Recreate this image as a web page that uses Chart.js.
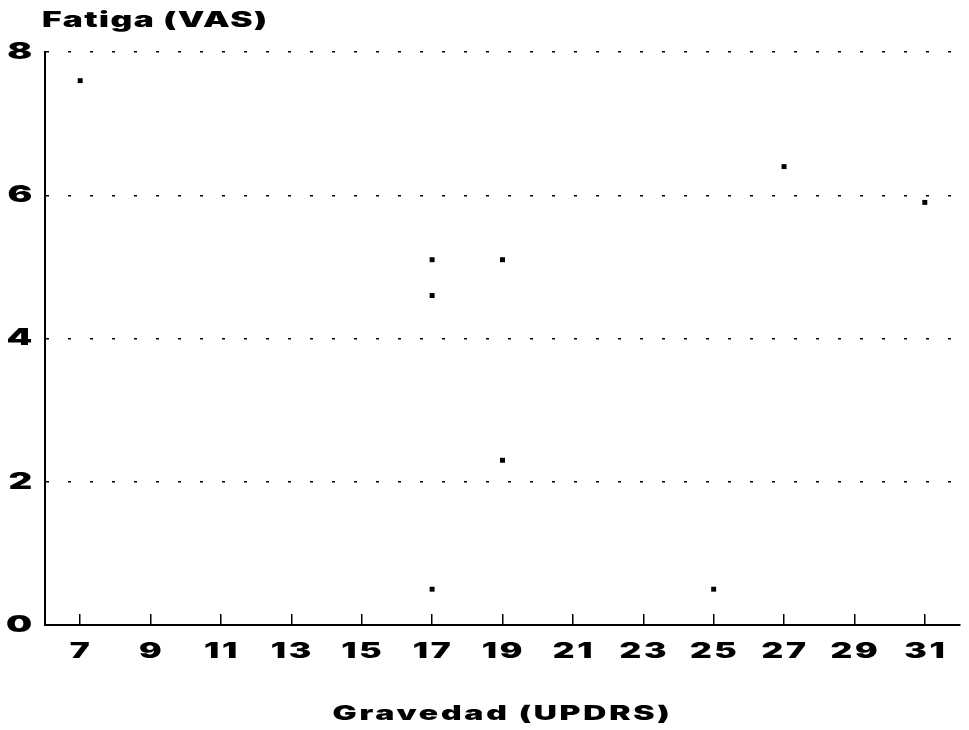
<!DOCTYPE html>
<html>
<head>
<meta charset="utf-8">
<script src="https://cdn.jsdelivr.net/npm/chart.js@4/dist/chart.umd.min.js"></script>
<style>
  html, body { margin: 0; padding: 0; background: #ffffff; }
  canvas { display: block; }
</style>
</head>
<body>
<canvas id="c" width="969" height="730"></canvas>
<script>
// Gravedad (UPDRS) vs Fatiga (VAS)
const gravedad = [7, 17, 17, 17, 19, 19, 25, 27, 31];
const fatiga   = [7.6, 5.1, 4.6, 0.5, 5.1, 2.3, 0.5, 6.4, 5.9];
const xTicks   = [7, 9, 11, 13, 15, 17, 19, 21, 23, 25, 27, 29, 31];
const yTicks   = [0, 2, 4, 6, 8];
const xTitle   = 'Gravedad (UPDRS)';
const yTitle   = 'Fatiga (VAS)';

const FONT = "Inter, 'DejaVu Sans', 'Liberation Sans', Arial, sans-serif";
const TEXT_STRETCH = 1.6;   // extended lettering
const LETTER_SPACING = '1.7px';

// draw every label with a horizontally extended face and a little tracking
const extendedText = {
  id: 'extendedText',
  beforeDraw(chart) {
    const ctx = chart.ctx;
    ctx.letterSpacing = LETTER_SPACING;
    if (ctx.__extended) return;
    const plain = ctx.fillText.bind(ctx);
    ctx.fillText = function (text, x, y, maxWidth) {
      ctx.save();
      ctx.translate(x, y);
      ctx.scale(TEXT_STRETCH, 1);
      if (maxWidth === undefined || maxWidth === null) plain(text, 0, 0);
      else plain(text, 0, 0, maxWidth / TEXT_STRETCH);
      ctx.restore();
    };
    ctx.__extended = true;
  }
};

// horizontal y-axis caption above the plot
const topCaption = {
  id: 'topCaption',
  afterDraw(chart) {
    const ctx = chart.ctx;
    ctx.save();
    ctx.letterSpacing = '0.9px';
    ctx.font = '900 21px ' + FONT;
    ctx.fillStyle = '#000';
    ctx.textAlign = 'left';
    ctx.textBaseline = 'alphabetic';
    ctx.fillText(yTitle, chart.chartArea.left - 3, 27);
    ctx.restore();
  }
};

new Chart(document.getElementById('c'), {
  type: 'scatter',
  data: {
    datasets: [{
      data: gravedad.map((g, i) => ({ x: g, y: fatiga[i] })),
      pointStyle: 'rect',
      pointRadius: 3.5,
      pointHoverRadius: 3.5,
      backgroundColor: '#000',
      borderColor: '#000',
      borderWidth: 0
    }]
  },
  options: {
    responsive: false,
    animation: false,
    layout: { padding: { top: 52, right: 9, bottom: 0, left: 0 } },
    plugins: { legend: { display: false }, tooltip: { enabled: false } },
    scales: {
      x: {
        type: 'linear',
        min: 6,
        max: 32,
        afterBuildTicks(scale) { scale.ticks = xTicks.map(v => ({ value: v })); },
        afterFit(scale) { scale.height = 105; },
        // only the lowest 11px of each vertical grid line is drawn: short inner tick marks
        grid: {
          drawOnChartArea: true,
          drawTicks: false,
          color: '#000',
          lineWidth: 1.5
        },
        border: { display: true, color: '#000', width: 2, dash: [0, 562, 11, 200] },
        ticks: {
          color: '#000',
          padding: 14,
          labelOffset: 1,
          maxRotation: 0,
          autoSkip: false,
          font: { family: FONT, size: 21, weight: '900' }
        },
        title: {
          display: true,
          text: xTitle,
          color: '#000',
          padding: { top: 4, bottom: 4 },
          font: { family: FONT, size: 20, weight: '900' }
        }
      },
      y: {
        min: 0,
        max: 8,
        afterBuildTicks(scale) { scale.ticks = yTicks.map(v => ({ value: v })); },
        afterFit(scale) { scale.width = 45; },
        grid: {
          drawOnChartArea: true,
          drawTicks: false,
          color: '#000',
          lineWidth: 1.5
        },
        border: { display: true, color: '#000', width: 2, dash: [3, 19] },
        ticks: {
          color: '#000',
          padding: 10,
          font: { family: FONT, size: 23, weight: '900' }
        }
      }
    }
  },
  plugins: [extendedText, topCaption]
});
</script>
</body>
</html>
